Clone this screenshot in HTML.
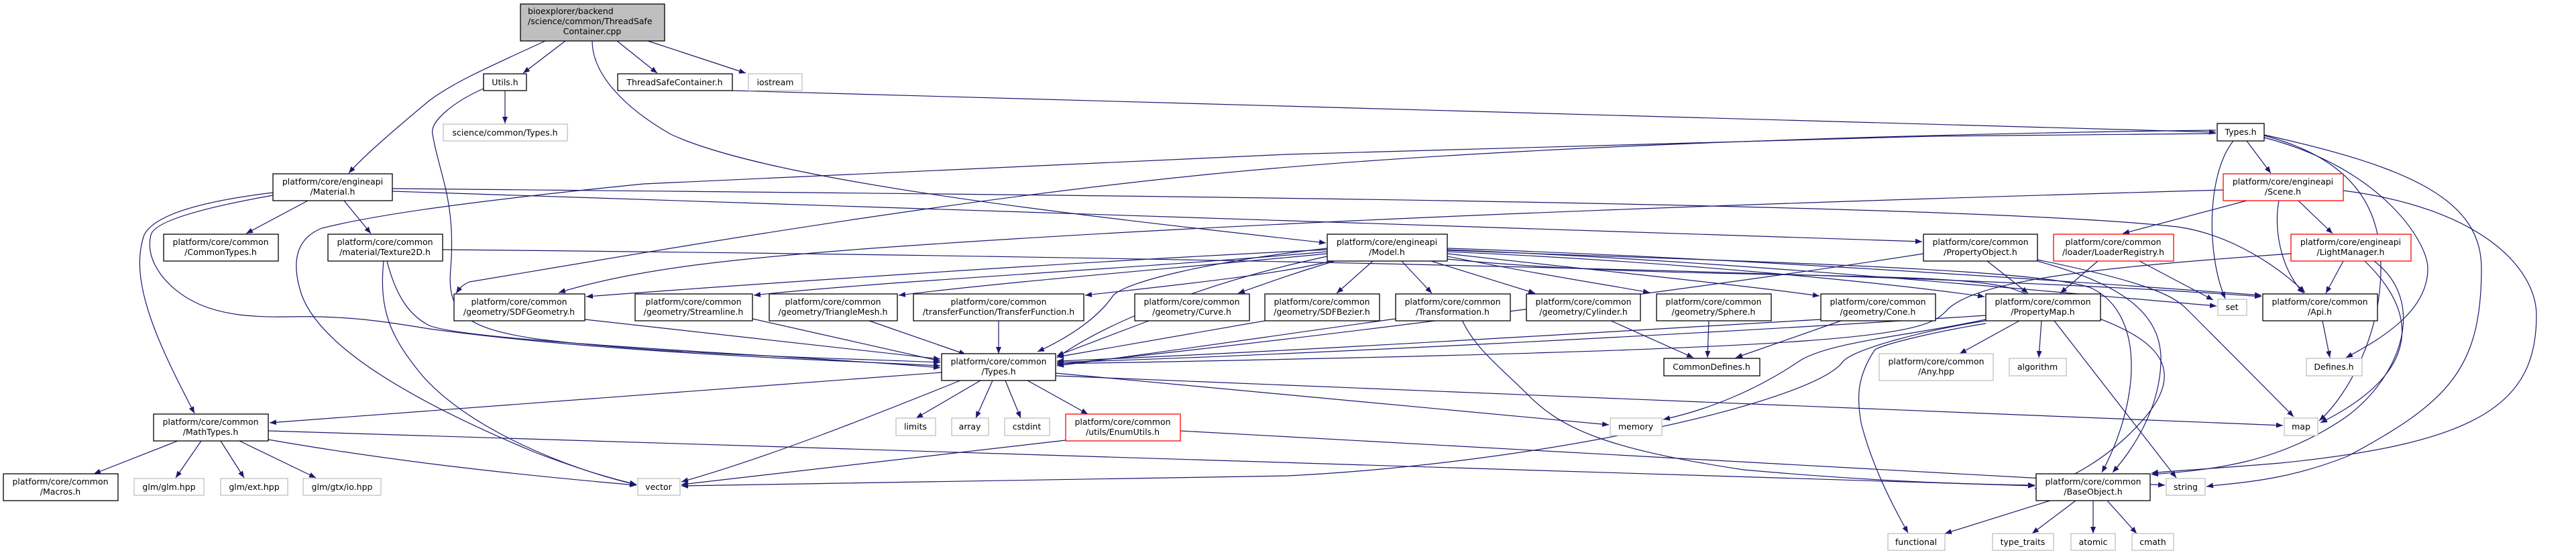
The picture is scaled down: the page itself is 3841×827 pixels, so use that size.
<!DOCTYPE html>
<html><head><meta charset="utf-8"><style>
html,body{margin:0;padding:0;background:#fff}
svg{display:block}
text{font-family:"DejaVu Sans","Liberation Sans",sans-serif;font-size:12.5px;fill:#000}
.e{fill:none;stroke:#191970;stroke-width:1.2;marker-end:url(#a)}
.n{fill:#fff;stroke:#000;stroke-width:1.3}
.g{fill:#fff;stroke:#bfbfbf;stroke-width:1.3}
.r{fill:#fff;stroke:#ff0000;stroke-width:1.3}
</style></head><body>
<svg width="3841" height="827" viewBox="0 0 3841 827" xmlns="http://www.w3.org/2000/svg">
<defs><marker id="a" markerUnits="userSpaceOnUse" markerWidth="11" markerHeight="8" refX="10" refY="4" orient="auto"><path d="M0,0 L10,4 L0,8 z" fill="#191970"/></marker></defs>
<g>
<path class="e" d="M813,61 C740,95 680,120 640,150 C580,200 540,235 520,258"/>
<path class="e" d="M843,61 L780,109"/>
<path class="e" d="M920,61 L980,109"/>
<path class="e" d="M966,61 L1112,109"/>
<path class="e" d="M883,61 C883,110 930,160 1000,200 C1150,270 1600,320 1977,362"/>
<path class="e" d="M753,135 L753,184"/>
<path class="e" d="M721,132 C680,150 640,180 645,200 C655,260 680,300 672,400 C665,470 700,490 800,505 C1000,530 1300,535 1402,540"/>
<path class="e" d="M1092,135 L3304,197"/>
<path class="e" d="M459,299 L367,348"/>
<path class="e" d="M513,299 L553,348"/>
<path class="e" d="M407,287 C300,300 230,320 215,350 C190,420 240,520 290,616"/>
<path class="e" d="M407,291 C300,310 230,330 225,350 C215,390 250,430 290,450 C330,470 380,473 430,472 C520,470 580,480 640,490 C900,525 1200,535 1402,545"/>
<path class="e" d="M585,281 C1500,290 2900,300 3247,338 C3330,350 3400,400 3437,436"/>
<path class="e" d="M585,285 L2866,360"/>
<path class="e" d="M577,389 C590,440 610,470 640,485 C700,510 1200,530 1402,548"/>
<path class="e" d="M572,389 C565,460 580,500 630,560 C700,640 850,700 949,722"/>
<path class="e" d="M660,372 C1500,380 2800,400 3372,442"/>
<path class="e" d="M3304,199 L2880,203 L1920,230 L960,274 C700,300 560,320 480,340 C430,360 440,410 450,440 C480,520 620,600 800,675 C880,705 920,715 949,722"/>
<path class="e" d="M3315,283 C2900,295 2000,320 1300,370 C1100,385 950,400 833,436"/>
<path class="e" d="M3304,194 C2800,200 2200,220 1800,260 C1400,300 1000,370 700,420 C690,424 685,430 680,437"/>
<path class="e" d="M1979,370 C1800,390 1680,420 1660,440 C1640,470 1600,500 1547,524"/>
<path class="e" d="M1979,375 C1700,400 1300,420 1124,440"/>
<path class="e" d="M1979,378 C1750,400 1500,420 1340,440"/>
<path class="e" d="M1985,389 C1900,410 1750,425 1618,440"/>
<path class="e" d="M1990,389 C1920,410 1880,425 1846,437"/>
<path class="e" d="M2047,389 L1993,437"/>
<path class="e" d="M2090,389 L2135,437"/>
<path class="e" d="M2134,389 L2289,437"/>
<path class="e" d="M2158,382 C2300,410 2400,425 2460,436"/>
<path class="e" d="M2158,378 C2400,405 2600,425 2713,441"/>
<path class="e" d="M1979,372 C1600,390 1100,425 874,442"/>
<path class="e" d="M1979,382 C1800,420 1650,480 1576,533"/>
<path class="e" d="M2158,375 C2500,390 2800,420 2959,442"/>
<path class="e" d="M2158,372 C2600,390 3000,430 3305,456"/>
<path class="e" d="M2158,370 C2600,385 3100,420 3372,440"/>
<path class="e" d="M2158,373 C2600,390 3050,400 3120,430 C3200,470 3190,600 3134,704"/>
<path class="e" d="M2158,386 C2500,420 2900,400 3000,430 C3100,470 3300,500 3200,620 C3150,680 3080,720 3034,728"/>
<path class="e" d="M3038,389 C3150,420 3225,460 3222,540 C3220,610 3180,670 3150,704"/>
<path class="e" d="M3038,387 C3200,420 3240,440 3260,460 C3320,520 3380,580 3420,621"/>
<path class="e" d="M2081,475 C1900,500 1700,530 1576,545"/>
<path class="e" d="M2402,478 L2525,533"/>
<path class="e" d="M2548,478 L2546,533"/>
<path class="e" d="M2745,478 L2588,533"/>
<path class="e" d="M2715,476 C2300,500 1900,525 1576,538"/>
<path class="e" d="M2180,477 C2200,520 2238,548 2280,590 C2330,640 2400,670 2600,700 C2800,718 2950,722 3034,723"/>
<path class="e" d="M2961,470 C2500,500 1900,530 1576,540"/>
<path class="e" d="M3011,478 L2922,527"/>
<path class="e" d="M3044,478 L3040,533"/>
<path class="e" d="M3063,478 L3245,712"/>
<path class="e" d="M2961,476 C2850,500 2720,510 2680,540 C2620,580 2550,610 2480,625"/>
<path class="e" d="M2961,478 C2880,490 2760,520 2747,540 C2700,600 2300,690 1920,709 C1500,716 1200,722 1016,724"/>
<path class="e" d="M2961,482 C2880,495 2800,515 2795,522 C2770,560 2768,590 2775,630 C2790,690 2820,750 2845,794"/>
<path class="e" d="M3128,389 L3072,437"/>
<path class="e" d="M3190,389 L3300,447"/>
<path class="e" d="M3494,389 L3468,437"/>
<path class="e" d="M3526,389 C3600,460 3620,550 3460,630"/>
<path class="e" d="M3540,389 C3620,450 3580,560 3500,620 C3400,690 3300,700 3208,707"/>
<path class="e" d="M3416,378 C3100,400 2950,420 2905,460 C2870,500 2820,520 1576,542"/>
<path class="e" d="M3350,299 L3165,348"/>
<path class="e" d="M3427,299 L3478,348"/>
<path class="e" d="M3398,299 C3390,340 3400,400 3435,437"/>
<path class="e" d="M3494,284 C3700,310 3782,400 3782,470 C3782,600 3700,660 3400,690 C3280,700 3230,702 3208,705"/>
<path class="e" d="M3350,210 L3386,258"/>
<path class="e" d="M3330,210 C3290,260 3290,380 3318,445"/>
<path class="e" d="M3376,205 C3550,250 3620,360 3620,400 C3620,460 3560,500 3498,533"/>
<path class="e" d="M3376,202 C3520,240 3550,320 3550,400 C3550,500 3500,590 3458,627"/>
<path class="e" d="M3376,201 C3600,250 3700,300 3700,400 C3700,550 3650,600 3500,680 C3400,720 3320,720 3290,725"/>
<path class="e" d="M3463,478 L3474,533"/>
<path class="e" d="M3057,746 L2900,795"/>
<path class="e" d="M3095,746 L3030,795"/>
<path class="e" d="M3121,746 L3121,795"/>
<path class="e" d="M3142,746 L3186,795"/>
<path class="e" d="M1462,567 L1366,623"/>
<path class="e" d="M1480,567 L1455,623"/>
<path class="e" d="M1499,567 L1522,623"/>
<path class="e" d="M1532,567 L1622,617"/>
<path class="e" d="M1432,567 C1300,620 1150,680 1016,718"/>
<path class="e" d="M1574,556 L2399,633"/>
<path class="e" d="M1574,560 L3404,634"/>
<path class="e" d="M1404,555 L402,630"/>
<path class="e" d="M1589,656 L1016,722"/>
<path class="e" d="M1760,642 L3228,723"/>
<path class="e" d="M265,657 L140,706"/>
<path class="e" d="M300,657 L262,712"/>
<path class="e" d="M329,657 L364,712"/>
<path class="e" d="M357,657 L471,712"/>
<path class="e" d="M400,655 C600,690 800,710 949,723"/>
<path class="e" d="M400,642 L3034,724"/>
<path class="e" d="M1122,475 L1402,538"/>
<path class="e" d="M1296,478 L1440,528"/>
<path class="e" d="M1489,478 L1489,527"/>
<path class="e" d="M1713,478 L1576,530"/>
<path class="e" d="M1886,478 L1576,532"/>
<path class="e" d="M872,476 L1402,535"/>
<path class="e" d="M2963,389 L3024,437"/>
<path class="e" d="M2868,378 C2600,420 2000,500 1576,543"/>
</g>
<g>
<rect x="776" y="6" width="215" height="55" fill="#bfbfbf" stroke="#000" stroke-width="1.3"/>
<text x="787" y="21">bioexplorer/backend</text>
<text x="787" y="36">/science/common/ThreadSafe</text>
<text x="883" y="51" text-anchor="middle">Container.cpp</text>

<rect class="n" x="721" y="110" width="64" height="25"/><text x="753" y="127" text-anchor="middle">Utils.h</text>
<rect class="g" x="661" y="185" width="185" height="25"/><text x="753" y="202" text-anchor="middle">science/common/Types.h</text>
<rect class="n" x="921" y="110" width="171" height="25"/><text x="1006" y="127" text-anchor="middle">ThreadSafeContainer.h</text>
<rect class="g" x="1116" y="110" width="80" height="25"/><text x="1156" y="127" text-anchor="middle">iostream</text>

<rect class="n" x="407" y="259" width="178" height="40"/><text x="496" y="275" text-anchor="middle">platform/core/engineapi</text><text x="496" y="290" text-anchor="middle">/Material.h</text>
<rect class="n" x="244" y="349" width="171" height="40"/><text x="329" y="365" text-anchor="middle">platform/core/common</text><text x="329" y="380" text-anchor="middle">/CommonTypes.h</text>
<rect class="n" x="489" y="349" width="171" height="40"/><text x="574" y="365" text-anchor="middle">platform/core/common</text><text x="574" y="380" text-anchor="middle">/material/Texture2D.h</text>
<rect class="n" x="677" y="438" width="195" height="40"/><text x="774" y="454" text-anchor="middle">platform/core/common</text><text x="774" y="469" text-anchor="middle">/geometry/SDFGeometry.h</text>
<rect class="n" x="229" y="617" width="171" height="40"/><text x="314" y="633" text-anchor="middle">platform/core/common</text><text x="314" y="648" text-anchor="middle">/MathTypes.h</text>
<rect class="n" x="5" y="706" width="171" height="40"/><text x="90" y="722" text-anchor="middle">platform/core/common</text><text x="90" y="737" text-anchor="middle">/Macros.h</text>
<rect class="g" x="200" y="713" width="104" height="25"/><text x="252" y="730" text-anchor="middle">glm/glm.hpp</text>
<rect class="g" x="329" y="713" width="100" height="25"/><text x="379" y="730" text-anchor="middle">glm/ext.hpp</text>
<rect class="g" x="452" y="713" width="116" height="25"/><text x="510" y="730" text-anchor="middle">glm/gtx/io.hpp</text>
<rect class="g" x="951" y="713" width="63" height="25"/><text x="982" y="730" text-anchor="middle">vector</text>

<rect class="n" x="947" y="438" width="175" height="40"/><text x="1034" y="454" text-anchor="middle">platform/core/common</text><text x="1034" y="469" text-anchor="middle">/geometry/Streamline.h</text>
<rect class="n" x="1147" y="438" width="191" height="40"/><text x="1242" y="454" text-anchor="middle">platform/core/common</text><text x="1242" y="469" text-anchor="middle">/geometry/TriangleMesh.h</text>
<rect class="n" x="1362" y="438" width="254" height="40"/><text x="1489" y="454" text-anchor="middle">platform/core/common</text><text x="1489" y="469" text-anchor="middle">/transferFunction/TransferFunction.h</text>
<rect class="n" x="1692" y="438" width="171" height="40"/><text x="1777" y="454" text-anchor="middle">platform/core/common</text><text x="1777" y="469" text-anchor="middle">/geometry/Curve.h</text>
<rect class="n" x="1886" y="438" width="171" height="40"/><text x="1971" y="454" text-anchor="middle">platform/core/common</text><text x="1971" y="469" text-anchor="middle">/geometry/SDFBezier.h</text>
<rect class="n" x="1404" y="527" width="170" height="40"/><text x="1489" y="543" text-anchor="middle">platform/core/common</text><text x="1489" y="558" text-anchor="middle">/Types.h</text>
<rect class="g" x="1336" y="623" width="59" height="26"/><text x="1365" y="640" text-anchor="middle">limits</text>
<rect class="g" x="1419" y="623" width="55" height="26"/><text x="1446" y="640" text-anchor="middle">array</text>
<rect class="g" x="1498" y="623" width="67" height="26"/><text x="1531" y="640" text-anchor="middle">cstdint</text>
<rect class="r" x="1589" y="617" width="171" height="40"/><text x="1674" y="633" text-anchor="middle">platform/core/common</text><text x="1674" y="648" text-anchor="middle">/utils/EnumUtils.h</text>

<rect class="n" x="1979" y="349" width="179" height="40"/><text x="2068" y="365" text-anchor="middle">platform/core/engineapi</text><text x="2068" y="380" text-anchor="middle">/Model.h</text>
<rect class="n" x="2081" y="438" width="171" height="40"/><text x="2166" y="454" text-anchor="middle">platform/core/common</text><text x="2166" y="469" text-anchor="middle">/Transformation.h</text>
<rect class="n" x="2276" y="438" width="170" height="40"/><text x="2361" y="454" text-anchor="middle">platform/core/common</text><text x="2361" y="469" text-anchor="middle">/geometry/Cylinder.h</text>
<rect class="n" x="2470" y="438" width="171" height="40"/><text x="2555" y="454" text-anchor="middle">platform/core/common</text><text x="2555" y="469" text-anchor="middle">/geometry/Sphere.h</text>
<rect class="n" x="2715" y="438" width="171" height="40"/><text x="2800" y="454" text-anchor="middle">platform/core/common</text><text x="2800" y="469" text-anchor="middle">/geometry/Cone.h</text>
<rect class="n" x="2481" y="534" width="143" height="26"/><text x="2552" y="551" text-anchor="middle">CommonDefines.h</text>
<rect class="g" x="2401" y="623" width="77" height="26"/><text x="2439" y="640" text-anchor="middle">memory</text>
<rect class="g" x="2802" y="527" width="170" height="40"/><text x="2887" y="543" text-anchor="middle">platform/core/common</text><text x="2887" y="558" text-anchor="middle">/Any.hpp</text>
<rect class="g" x="2815" y="795" width="85" height="25"/><text x="2857" y="812" text-anchor="middle">functional</text>
<rect class="n" x="2868" y="349" width="170" height="40"/><text x="2953" y="365" text-anchor="middle">platform/core/common</text><text x="2953" y="380" text-anchor="middle">/PropertyObject.h</text>

<rect class="n" x="3306" y="184" width="70" height="26"/><text x="3341" y="201" text-anchor="middle">Types.h</text>
<rect class="r" x="3315" y="259" width="179" height="40"/><text x="3404" y="275" text-anchor="middle">platform/core/engineapi</text><text x="3404" y="290" text-anchor="middle">/Scene.h</text>
<rect class="r" x="3062" y="349" width="179" height="40"/><text x="3151" y="365" text-anchor="middle">platform/core/common</text><text x="3151" y="380" text-anchor="middle">/loader/LoaderRegistry.h</text>
<rect class="r" x="3416" y="349" width="179" height="40"/><text x="3505" y="365" text-anchor="middle">platform/core/engineapi</text><text x="3505" y="380" text-anchor="middle">/LightManager.h</text>
<rect class="n" x="2961" y="438" width="171" height="40"/><text x="3046" y="454" text-anchor="middle">platform/core/common</text><text x="3046" y="469" text-anchor="middle">/PropertyMap.h</text>
<rect class="g" x="3307" y="446" width="43" height="24"/><text x="3328" y="462" text-anchor="middle">set</text>
<rect class="n" x="3374" y="438" width="171" height="40"/><text x="3459" y="454" text-anchor="middle">platform/core/common</text><text x="3459" y="469" text-anchor="middle">/Api.h</text>
<rect class="g" x="2996" y="534" width="85" height="26"/><text x="3038" y="551" text-anchor="middle">algorithm</text>
<rect class="g" x="3439" y="534" width="83" height="26"/><text x="3480" y="551" text-anchor="middle">Defines.h</text>
<rect class="g" x="3406" y="623" width="50" height="26"/><text x="3431" y="640" text-anchor="middle">map</text>
<rect class="n" x="3036" y="706" width="170" height="40"/><text x="3121" y="722" text-anchor="middle">platform/core/common</text><text x="3121" y="737" text-anchor="middle">/BaseObject.h</text>
<rect class="g" x="3230" y="713" width="58" height="25"/><text x="3259" y="730" text-anchor="middle">string</text>
<rect class="g" x="2971" y="795" width="91" height="25"/><text x="3016" y="812" text-anchor="middle">type_traits</text>
<rect class="g" x="3088" y="795" width="66" height="25"/><text x="3121" y="812" text-anchor="middle">atomic</text>
<rect class="g" x="3179" y="795" width="62" height="25"/><text x="3210" y="812" text-anchor="middle">cmath</text>
</g>
</svg>
</body></html>
